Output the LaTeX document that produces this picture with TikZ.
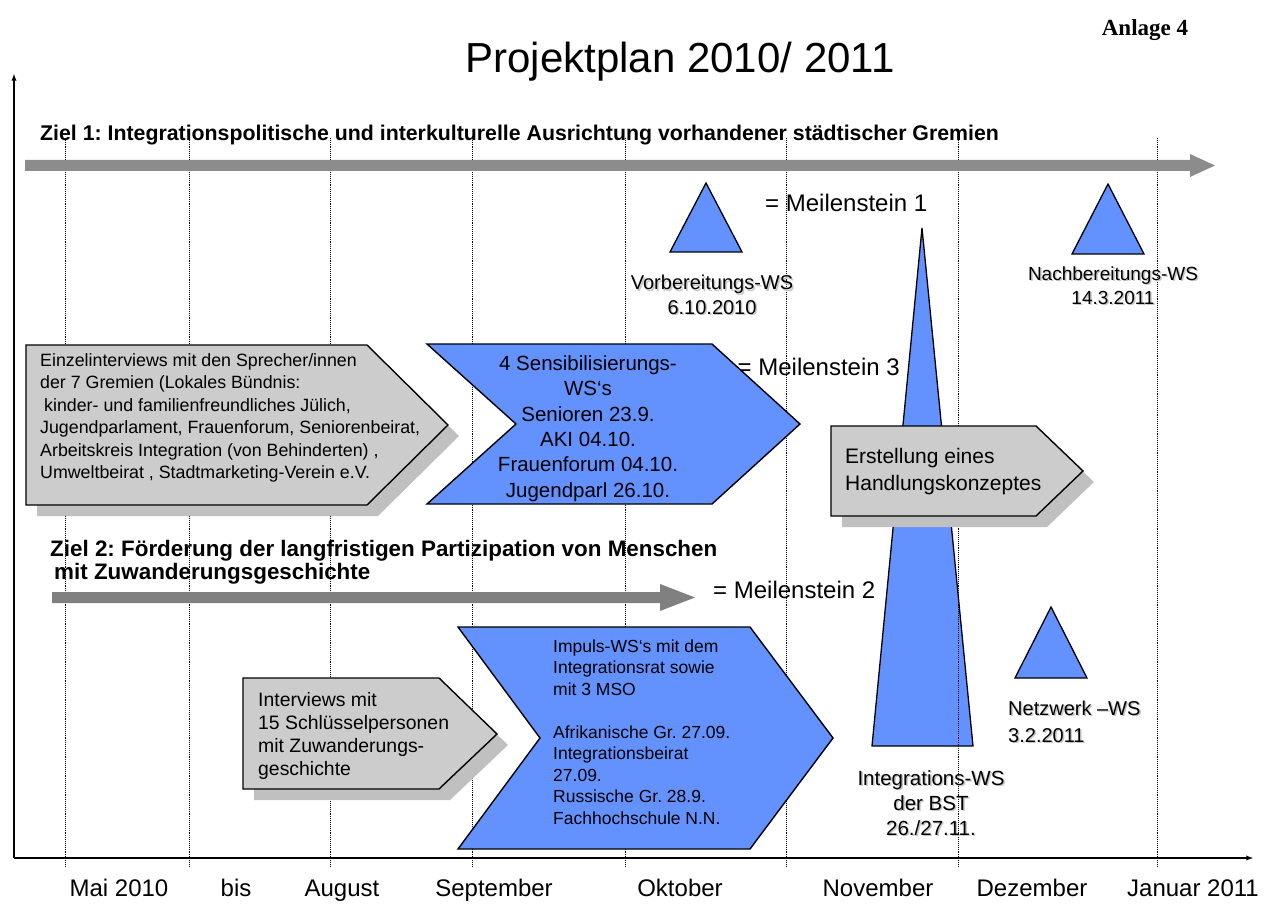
\documentclass[tikz,border=0pt]{standalone}
\usepackage{fontspec}
\setmainfont{Liberation Sans}
\newfontfamily\anlagefont{Liberation Serif}
\usetikzlibrary{shadows}
\definecolor{wsblue}{RGB}{99,146,255}
\definecolor{zielgrey}{RGB}{140,140,140}
\definecolor{zielgreyb}{RGB}{128,128,128}
\definecolor{boxgrey}{RGB}{204,204,204}
\definecolor{shadowgrey}{RGB}{192,192,192}
\tikzstyle{axis}=[line width=1.3pt, -latex]
\tikzstyle{monthline}=[densely dotted, line width=0.9pt]
\tikzstyle{milestone}=[draw, fill=wsblue, line width=1.3pt, line join=miter]
\tikzstyle{wschevron}=[draw, fill=wsblue, line width=1.4pt]
\tikzstyle{wsbox}=[draw, fill=boxgrey, line width=1.4pt,
                   drop shadow={shadow xshift=11pt, shadow yshift=-11pt, fill=shadowgrey, opacity=1}]
\tikzstyle{zieltext}=[inner sep=0, anchor=west, font=\bfseries\fontsize{21.3}{24}\selectfont]
\tikzstyle{meiltext}=[inner sep=0, font=\fontsize{24}{28}\selectfont]
\tikzstyle{boxtext}=[inner sep=0, anchor=west, align=left]
\tikzstyle{wstext}=[inner sep=0, align=center, font=\fontsize{20}{24.5}\selectfont]
\tikzstyle{monthtext}=[inner sep=0, anchor=base, font=\fontsize{24}{28}\selectfont]
% label with a light drop shadow under the letters
\newcommand{\wslabel}[4]{%
  \node[wstext, #3, text=gray!45, xshift=1.5pt, yshift=-1.5pt] at (#2) {#4};
  \node[wstext, #3] (#1) at (#2) {#4};}

\begin{document}
\frenchspacing
\begin{tikzpicture}[x=1pt, y=-1pt]
    \useasboundingbox (0,0) rectangle (1269,909);
    \node[font=\fontsize{42}{48}\selectfont] (title) at (680,62) {Projektplan 2010/ 2011};
    \node[font=\anlagefont\bfseries\fontsize{23}{27}\selectfont] (anlage) at (1145,30) {Anlage 4};

    % Meilenstein 1 (Integrations-WS), behind the grid
    \draw[milestone] (922,228) -- (973,746) -- (872,746) -- cycle;

    \foreach \x in {65,189,330,472,625,786,958,1157}
        \draw[monthline] (\x,138) -- (\x,866);

    \coordinate (origin) at (14,858);
    \coordinate (ytop) at (14,74);
    \coordinate (xend) at (1253,858);
    \draw[axis] (origin) -- (ytop);
    \draw[axis] (origin) -- (xend);

    % Ziel 1
    \node[zieltext] (ziel1) at (40,135) {Ziel 1: Integrationspolitische und interkulturelle Ausrichtung vorhandener städtischer Gremien};
    \fill[zielgrey] (25,160) -- (1190,160) -- (1190,154) -- (1215,165.5) -- (1190,177) -- (1190,171) -- (25,171) -- cycle;

    % Ziel 2
    \node[zieltext, align=left, font=\bfseries\fontsize{22.4}{23}\selectfont] (ziel2) at (50,562)
        {Ziel 2: Förderung der langfristigen Partizipation von Menschen\\\hspace{4pt}mit Zuwanderungsgeschichte};
    \fill[zielgreyb] (52,592) -- (660,592) -- (660,584) -- (695,597.5) -- (660,611) -- (660,603) -- (52,603) -- cycle;

    \node[meiltext, anchor=west] (meil1) at (765,203) {= Meilenstein 1};
    \node[meiltext, anchor=east] (meil3) at (900,367) {= Meilenstein 3};
    \node[meiltext, anchor=west] (meil2) at (713,590) {= Meilenstein 2};

    \draw[milestone] (706,183) -- (742,252) -- (670,252) -- cycle;
    \draw[milestone] (1108,184) -- (1144,254) -- (1072,254) -- cycle;
    \draw[milestone] (1051,607) -- (1087,678) -- (1015,678) -- cycle;

    % Ziel 1 steps
    \draw[wsbox] (26,345) -- (367,345) -- (448,425) -- (367,505) -- (26,505) -- cycle;
    \node[boxtext, font=\fontsize{17.8}{22.5}\selectfont] (einzel) at (40,418)
        {Einzelinterviews mit den Sprecher/innen\\der 7 Gremien (Lokales Bündnis:\\\hspace{4pt}kinder- und familienfreundliches Jülich,\\Jugendparlament, Frauenforum, Seniorenbeirat,\\Arbeitskreis Integration (von Behinderten) ,\\Umweltbeirat , Stadtmarketing-Verein e.V.};
    \draw[wschevron] (427,344) -- (712,344) -- (800,424) -- (712,504) -- (427,504) -- (516,424) -- cycle;
    \node[inner sep=0, align=center, font=\fontsize{20.5}{25.4}\selectfont] (sensi) at (588,428.5)
        {4 Sensibilisierungs-\\WS‘s\\Senioren 23.9.\\AKI 04.10.\\Frauenforum 04.10.\\Jugendparl 26.10.};
    \draw[wsbox] (831,426) -- (1036,426) -- (1083,471) -- (1036,516) -- (831,516) -- cycle;
    \node[boxtext, font=\fontsize{21}{27}\selectfont] (konzept) at (845,471.5)
        {Erstellung eines\\Handlungskonzeptes};

    % Ziel 2 steps
    \draw[wsbox] (243,678) -- (439,678) -- (497,734) -- (439,789) -- (243,789) -- cycle;
    \node[boxtext, font=\fontsize{19.4}{22.7}\selectfont] (schluessel) at (258,736)
        {Interviews mit\\15 Schlüsselpersonen\\mit Zuwanderungs-\\geschichte};
    \draw[wschevron] (458,627) -- (750,627) -- (833,738) -- (750,849) -- (458,849) -- (540,738) -- cycle;
    \node[boxtext, font=\fontsize{17.5}{21.5}\selectfont] (impuls) at (553,732)
        {Impuls-WS‘s mit dem\\Integrationsrat sowie\\mit 3 MSO\\[21.5pt]Afrikanische Gr. 27.09.\\Integrationsbeirat\\27.09.\\Russische Gr. 28.9.\\Fachhochschule N.N.};

    % workshop labels
    \wslabel{vorb}{712,295}{}{Vorbereitungs-WS\\6.10.2010}
    \wslabel{nachb}{1113,285.5}{font=\fontsize{19}{24}\selectfont}{Nachbereitungs-WS\\14.3.2011}
    \wslabel{netz}{1008,721.5}{anchor=west, align=left, font=\fontsize{20}{27}\selectfont}{Netzwerk –WS\\3.2.2011}
    \wslabel{integ}{931,803}{font=\fontsize{20.5}{25}\selectfont}{Integrations-WS\\der BST\\26./27.11.}

    \foreach \x/\m in {119/Mai 2010, 236/bis, 342/August, 494/September, 680/Oktober, 878/November, 1032/Dezember, 1193/Januar 2011}
        \node[monthtext] (month-\x) at (\x,896) {\m};
\end{tikzpicture}
\end{document}
